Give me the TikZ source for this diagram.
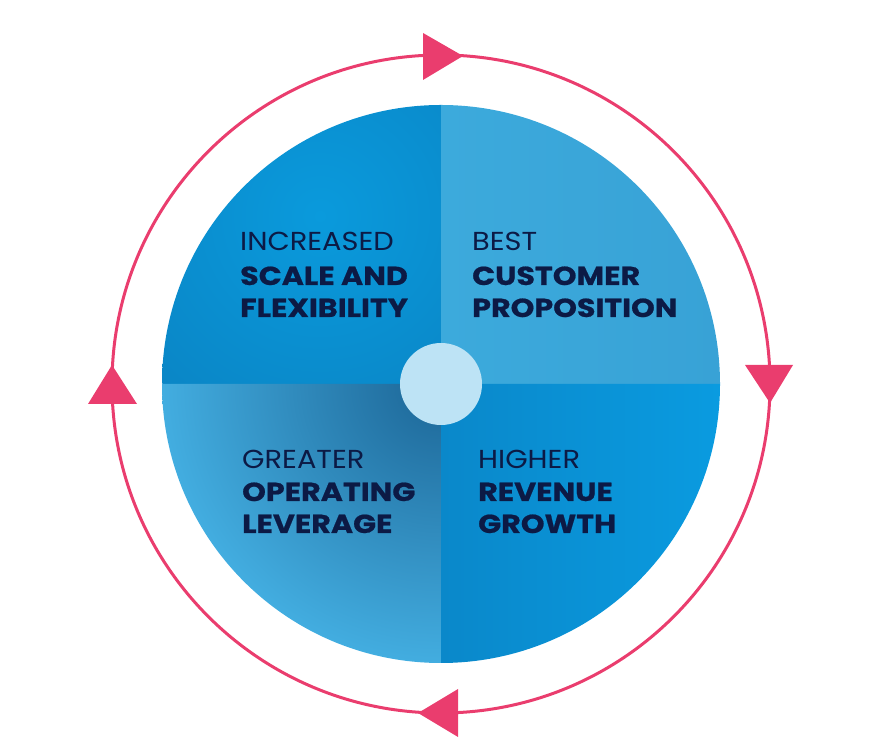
\documentclass[tikz,border=0pt]{standalone}
\usepackage{fontspec}
\setmainfont{Poppins}[FakeStretch=1.11,BoldFeatures={FakeStretch=1.16,FakeBold=0.7}]
\definecolor{ring}{HTML}{EA3D6E}
\definecolor{navy}{HTML}{0C1A45}
\definecolor{hub}{HTML}{BDE3F5}
\definecolor{tlA}{HTML}{0A9ADC}
\definecolor{tlB}{HTML}{0A86C6}
\definecolor{trA}{HTML}{3CAADC}
\definecolor{trB}{HTML}{38A2D6}
\definecolor{blA}{HTML}{44B0E3}
\definecolor{blB}{HTML}{1C6596}
\definecolor{brA}{HTML}{0A9BE0}
\definecolor{brB}{HTML}{0A88CA}
\tikzset{
  lbl/.style={anchor=base west,inner sep=0pt,text=navy,font=\fontsize{26}{26}\selectfont},
  lblb/.style={lbl,font=\fontsize{26}{26}\selectfont\bfseries},
  tip/.style={fill=ring,draw=none}
}
\begin{document}
\begin{tikzpicture}[x=1pt,y=1pt]
\useasboundingbox (0,0) rectangle (880,746);
\coordinate (C) at (441,362);
% quadrants
\begin{scope}
  \clip (C) -- ++(90:279pt) arc[start angle=90,end angle=180,radius=279pt] -- cycle;
  \shade[inner color=tlA,outer color=tlB] (320,530) circle[radius=230pt];
\end{scope}
\shade[left color=trA,right color=trB]
  (C) -- ++(0:279pt) arc[start angle=0,end angle=90,radius=279pt] -- cycle;
\begin{scope}
  \clip (C) -- ++(180:279pt) arc[start angle=180,end angle=270,radius=279pt] -- cycle;
  \shade[inner color=blB,outer color=blA] (C) circle[radius=290pt];
\end{scope}
\shade[left color=brB,right color=brA]
  (C) -- ++(270:279pt) arc[start angle=270,end angle=360,radius=279pt] -- cycle;
% hub
\fill[hub] (C) circle[radius=41pt];
% ring
\draw[ring,line width=3pt] (C) circle[radius=329pt];
% arrow heads
\fill[tip] (423,713) -- (463,690) -- (423,666) -- cycle;
\fill[tip] (745,381) -- (793,381) -- (770,343) -- cycle;
\fill[tip] (458,57) -- (418,33) -- (458,9) -- cycle;
\fill[tip] (88,342) -- (137,342) -- (112,381) -- cycle;
% labels
\node[lbl]  (t1) at (240,495) {INCREASED};
\node[lblb] (t2) at (240,461) {SCALE AND};
\node[lblb] (t3) at (240,429) {FLEXIBILITY};
\node[lbl]  (r1) at (472,495) {BEST};
\node[lblb] (r2) at (472,461) {CUSTOMER};
\node[lblb] (r3) at (472,429) {PROPOSITION};
\node[lbl]  (b1) at (242,277) {GREATER};
\node[lblb] (b2) at (242,245) {OPERATING};
\node[lblb] (b3) at (242,213) {LEVERAGE};
\node[lbl]  (h1) at (478,277) {HIGHER};
\node[lblb] (h2) at (478,245) {REVENUE};
\node[lblb] (h3) at (478,213) {GROWTH};
\end{tikzpicture}
\end{document}
